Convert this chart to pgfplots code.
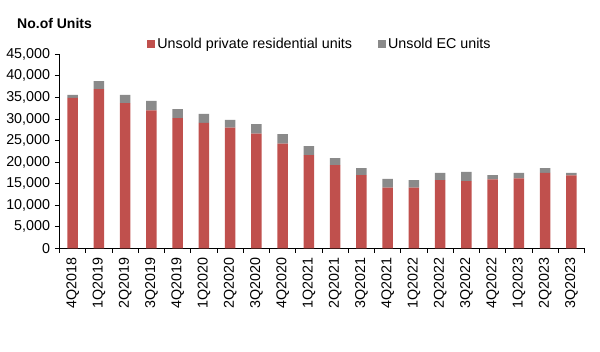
\documentclass[border=0pt]{standalone}
\usepackage{pgfplots}
\pgfplotsset{compat=1.18}
\usepackage{fontspec}
\setmainfont{Liberation Sans}
\definecolor{resred}{HTML}{C0504D}
\definecolor{ecgray}{HTML}{8A8A8A}
\begin{document}
\begin{tikzpicture}[x=1bp,y=1bp]
\fontsize{14.3bp}{16bp}\selectfont
\useasboundingbox (-59.5,-102.7) rectangle (540.5,248.3);
\node[anchor=west,font=\bfseries\fontsize{14bp}{16bp}\selectfont,inner sep=0pt] at (-42.5,224.5) {No.of Units};
\begin{axis}[
  at={(0,0)}, anchor=south west,
  scale only axis, width=525bp, height=194bp,
  ymin=0, ymax=45000,
  xmin=-0.5, xmax=19.5,
  ybar stacked, bar width=10.5bp,
  axis x line*=bottom, axis y line*=left,
  axis line style={black, line width=0.8pt, -},
  ytick={0,5000,...,45000},
  scaled y ticks=false,
  yticklabel style={/pgf/number format/.cd, 1000 sep={,}, assume math mode=true},
  xtick={0,...,19},
  xticklabels={4Q2018,1Q2019,2Q2019,3Q2019,4Q2019,1Q2020,2Q2020,3Q2020,4Q2020,1Q2021,2Q2021,3Q2021,4Q2021,1Q2022,2Q2022,3Q2022,4Q2022,1Q2023,2Q2023,3Q2023},
  xticklabel style={rotate=90, anchor=east, xshift=0bp},
  minor xtick={-0.5,0.5,...,19.5},
  tick align=outside,
  major x tick style={draw=none},
  minor x tick style={black, line width=0.8pt},
  y tick style={black, line width=0.8pt},
  major tick length=4.5bp, minor tick length=4.5bp,
  tick label style={font=\fontsize{14.3bp}{16bp}\selectfont},
  legend columns=2,
  legend style={at={(0.167,1.053)}, anchor=west, draw=none, fill=none, inner sep=0pt,
    font=\fontsize{14.3bp}{16bp}\selectfont, /tikz/every even column/.append style={column sep=24bp}},
  legend image code/.code={\fill[#1] (0bp,-4bp) rectangle (8bp,4bp);},
]
\addplot[fill=resred, draw=none] coordinates {
(0,34900) (1,36900) (2,33700) (3,32000) (4,30200) (5,29100) (6,28000) (7,26600) (8,24300) (9,21600)
(10,19300) (11,17000) (12,14100) (13,14100) (14,15800) (15,15600) (16,16000) (17,16200) (18,17500) (19,16900)};
\addlegendentry{Unsold private residential units}
\addplot[fill=ecgray, draw=none] coordinates {
(0,700) (1,1900) (2,1900) (3,2200) (4,2100) (5,2100) (6,1800) (7,2200) (8,2200) (9,2100)
(10,1600) (11,1600) (12,2000) (13,1700) (14,1700) (15,2100) (16,1000) (17,1300) (18,1100) (19,600)};
\addlegendentry{Unsold EC units}
\end{axis}
\end{tikzpicture}
\end{document}
